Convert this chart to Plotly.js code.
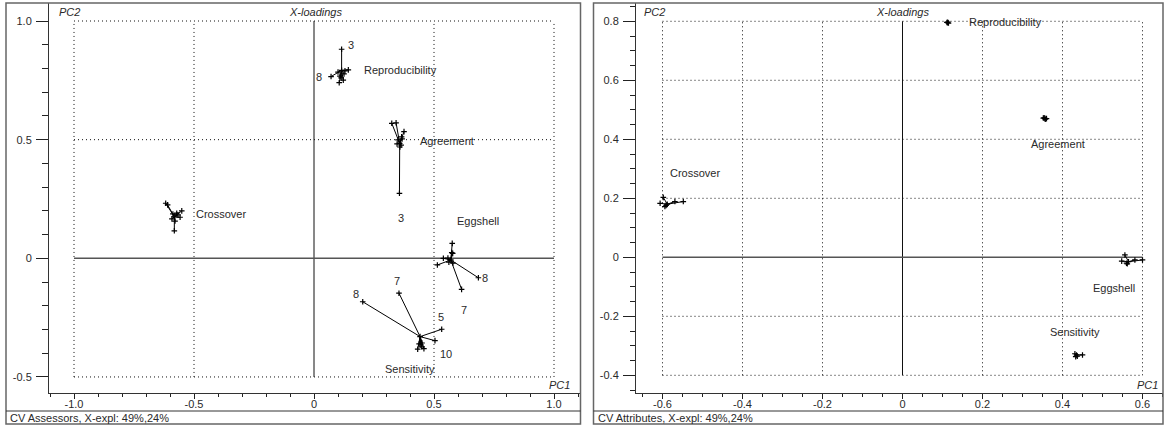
<!DOCTYPE html>
<html>
<head>
<meta charset="utf-8">
<script src="https://cdn.plot.ly/plotly-3.0.1.min.js"></script>
<style>
  html, body { margin: 0; padding: 0; background: #fff; }
  #chart { width: 1165px; height: 425px; }
</style>
</head>
<body>
<div id="chart"></div>
<script>
// Attributes shown in both loading plots
const attributes = ['Reproducibility', 'Agreement', 'Crossover', 'Eggshell', 'Sensitivity'];

// ---- CV Assessors: full-model loading (centre) and one sub-model per left-out assessor ----
const assessorIds = [1, 2, 3, 4, 5, 6, 7, 8, 9, 10];
const assessorCentreX = [0.115, 0.357, -0.582, 0.570, 0.442];
const assessorCentreY = [0.792, 0.484, 0.175, -0.007, -0.330];
const assessorSubX = [
  [0.129, 0.143, 0.115, 0.122, 0.105, 0.108, 0.100, 0.071, 0.125, 0.113],
  [0.350, 0.324, 0.356, 0.375, 0.342, 0.365, 0.367, 0.358, 0.363, 0.346],
  [-0.618, -0.610, -0.582, -0.551, -0.558, -0.572, -0.592, -0.579, -0.567, -0.588],
  [0.576, 0.574, 0.539, 0.514, 0.578, 0.562, 0.615, 0.685, 0.579, 0.558],
  [0.438, 0.450, 0.445, 0.432, 0.532, 0.458, 0.354, 0.203, 0.449, 0.504]
];
const assessorSubY = [
  [0.790, 0.794, 0.881, 0.751, 0.740, 0.768, 0.785, 0.766, 0.777, 0.760],
  [0.499, 0.569, 0.274, 0.534, 0.571, 0.512, 0.503, 0.469, 0.477, 0.482],
  [0.232, 0.225, 0.116, 0.200, 0.173, 0.190, 0.166, 0.157, 0.183, 0.187],
  [0.063, 0.024, 0.000, -0.028, 0.021, -0.016, -0.131, -0.082, -0.020, 0.001],
  [-0.361, -0.357, -0.365, -0.383, -0.299, -0.381, -0.147, -0.183, -0.373, -0.347]
];
// Assessors whose sub-model is labelled, per attribute
const labelledAssessors = [[3, 8], [3], [], [8, 7], [8, 7, 5, 10]];

// ---- CV Attributes: full-model loading (centre) and sub-models ----
const attributeCentreX = [0.113, 0.356, -0.588, 0.565, 0.435];
const attributeCentreY = [0.795, 0.471, 0.180, -0.015, -0.331];
const attributeSubX = [
  [0.111, 0.115, 0.113],
  [0.352, 0.360, 0.357, 0.354],
  [-0.598, -0.606, -0.594, -0.569, -0.548, -0.591],
  [0.556, 0.548, 0.560, 0.581, 0.600, 0.562],
  [0.431, 0.433, 0.450, 0.437]
];
const attributeSubY = [
  [0.796, 0.794, 0.797],
  [0.472, 0.470, 0.468, 0.473],
  [0.203, 0.183, 0.172, 0.189, 0.189, 0.176],
  [0.008, -0.013, -0.020, -0.009, -0.009, -0.022],
  [-0.327, -0.337, -0.331, -0.335]
];

// Axis ticks
const leftXTicks = [-1, -0.5, 0, 0.5, 1];
const leftXTickText = ['-1.0', '-0.5', '0', '0.5', '1.0'];
const leftYTicks = [-0.5, 0, 0.5, 1];
const leftYTickText = ['-0.5', '0', '0.5', '1.0'];
const rightXTicks = [-0.6, -0.4, -0.2, 0, 0.2, 0.4, 0.6];
const rightXTickText = ['-0.6', '-0.4', '-0.2', '0', '0.2', '0.4', '0.6'];
const rightYTicks = [-0.4, -0.2, 0, 0.2, 0.4, 0.6, 0.8];
const rightYTickText = ['-0.4', '-0.2', '0', '0.2', '0.4', '0.6', '0.8'];

const captions = ['CV Assessors, X-expl: 49%,24%', 'CV Attributes, X-expl: 49%,24%'];

// ---------------- drawing ----------------
const W = 1165, H = 425;
const FONT = 'Liberation Sans, Arial, sans-serif';
const TXT = '#2a2a2a';
const px = v => v / W;
const py = v => 1 - v / H;

// Attribute label placement (pixel offsets from the centre, per panel)
const attrLabelShift = {
  x:  { Reproducibility: [20, 0], Agreement: [18, 2], Crossover: [20, 3], Eggshell: [4, 39], Sensitivity: [-37, -32] },
  x2: { Reproducibility: [19, 1], Agreement: [-16, -26], Crossover: [1, 31], Eggshell: [-38, -26], Sensitivity: [-29, 23] }
};
// Assessor-number placement, keyed "attribute:assessor"
const numLabelShift = {
  'Reproducibility:3': [9, 4], 'Reproducibility:8': [-12, 0],
  'Agreement:3': [2, -25],
  'Eggshell:8': [7, 0], 'Eggshell:7': [2, -21],
  'Sensitivity:8': [-7, 8], 'Sensitivity:7': [-2, 12], 'Sensitivity:5': [-1, 12], 'Sensitivity:10': [11, -13]
};

function starTraces(cx, cy, sx, sy, xa, ya) {
  const traces = [];
  cx.forEach((c, i) => {
    const lx = [], ly = [];
    sx[i].forEach((v, j) => {
      lx.push(c, v, null);
      ly.push(cy[i], sy[i][j], null);
    });
    traces.push({
      type: 'scatter', mode: 'lines', x: lx, y: ly, xaxis: xa, yaxis: ya,
      line: { color: '#000', width: 1 }, hoverinfo: 'skip', showlegend: false
    });
    traces.push({
      type: 'scatter', mode: 'markers', x: sx[i].concat([c]), y: sy[i].concat([cy[i]]),
      xaxis: xa, yaxis: ya,
      marker: { symbol: 'cross-thin', size: 4, line: { color: '#000', width: 1.2 } },
      hoverinfo: 'skip', showlegend: false
    });
  });
  return traces;
}

const data = [].concat(
  starTraces(assessorCentreX, assessorCentreY, assessorSubX, assessorSubY, 'x', 'y'),
  starTraces(attributeCentreX, attributeCentreY, attributeSubX, attributeSubY, 'x2', 'y2')
);

const annotations = [];
function addAttrLabels(cx, cy, xr, yr) {
  attributes.forEach((a, i) => {
    const s = attrLabelShift[xr][a];
    annotations.push({
      text: a, x: cx[i], y: cy[i], xref: xr, yref: yr, showarrow: false,
      xanchor: 'left', yanchor: 'middle', xshift: s[0], yshift: s[1],
      font: { family: FONT, size: 11, color: TXT }
    });
  });
}
addAttrLabels(assessorCentreX, assessorCentreY, 'x', 'y');
addAttrLabels(attributeCentreX, attributeCentreY, 'x2', 'y2');

attributes.forEach((a, i) => {
  labelledAssessors[i].forEach(id => {
    const j = assessorIds.indexOf(id);
    const s = numLabelShift[a + ':' + id];
    annotations.push({
      text: String(id), x: assessorSubX[i][j], y: assessorSubY[i][j], xref: 'x', yref: 'y',
      showarrow: false, xanchor: 'center', yanchor: 'middle', xshift: s[0], yshift: s[1],
      font: { family: FONT, size: 11, color: TXT }
    });
  });
});

// Panel titles and captions
function paperText(text, x, y, xanchor, italic) {
  annotations.push({
    text: italic ? '<i>' + text + '</i>' : text, x: px(x), y: py(y), xref: 'paper', yref: 'paper',
    showarrow: false, xanchor: xanchor, yanchor: 'middle',
    font: { family: FONT, size: 11, color: TXT }
  });
}
paperText('PC2', 57, 12, 'left', true);
paperText('X-loadings', 315, 12, 'center', true);
paperText('PC1', 572, 385, 'right', true);
paperText(captions[0], 8, 418, 'left', false);
paperText('PC2', 642, 12, 'left', true);
paperText('X-loadings', 902, 12, 'center', true);
paperText('PC1', 1160, 385, 'right', true);
paperText(captions[1], 596, 418, 'left', false);

// Dotted reference grid and solid zero lines, confined to the outer ticks
const shapes = [];
function grid(xr, yr, xt, yt) {
  const x0 = xt[0], x1 = xt[xt.length - 1], y0 = yt[0], y1 = yt[yt.length - 1];
  xt.forEach(v => {
    shapes.push({ type: 'line', xref: xr, yref: yr, x0: v, x1: v, y0: y0, y1: y1, layer: 'below',
      line: v === 0 ? { color: '#111', width: 1 } : { color: '#111', width: 1, dash: '1px,3px' } });
  });
  yt.forEach(v => {
    shapes.push({ type: 'line', xref: xr, yref: yr, x0: x0, x1: x1, y0: v, y1: v, layer: 'below',
      line: v === 0 ? { color: '#555', width: 1.5 } : { color: '#111', width: 1, dash: '1px,3px' } });
  });
}
grid('x', 'y', leftXTicks, leftYTicks);
grid('x2', 'y2', rightXTicks, rightYTicks);

// Panel frames and caption separators
function frame(l, r) {
  shapes.push({ type: 'rect', xref: 'paper', yref: 'paper', x0: px(l), x1: px(r), y0: py(424), y1: py(3),
    line: { color: '#666', width: 1.5 } });
  shapes.push({ type: 'line', xref: 'paper', yref: 'paper', x0: px(l), x1: px(r), y0: py(411), y1: py(411),
    line: { color: '#333', width: 1 } });
}
frame(6, 580.5);
frame(593.5, 1163);

function axis(domain, range, ticks, text, minorStep, majorLen, minorLen, standoff) {
  return {
    domain: domain, range: range, tickmode: 'array', tickvals: ticks, ticktext: text,
    ticks: 'outside', ticklen: majorLen, tickwidth: 1, tickcolor: '#222',
    ticklabelstandoff: standoff,
    minor: { tickmode: 'linear', tick0: 0, dtick: minorStep, ticks: 'outside', ticklen: minorLen,
             tickcolor: '#222', tickwidth: 1, showgrid: false },
    showline: true, linecolor: '#333', linewidth: 1, mirror: false,
    showgrid: false, zeroline: false, fixedrange: true,
    tickfont: { family: FONT, size: 11, color: TXT }
  };
}

const yDom = [1 - 393 / H, 1 - 3 / H];
const layout = {
  width: W, height: H,
  margin: { l: 0, r: 0, t: 0, b: 0 },
  paper_bgcolor: '#fff', plot_bgcolor: '#fff',
  showlegend: false,
  xaxis: axis([px(49), px(580.5)], [-1.1042, 1.1104], leftXTicks, leftXTickText, 0.1, 5, 3, -4),
  yaxis: axis(yDom, [-0.5676, 1.0759], leftYTicks, leftYTickText, 0.1, 12, 6, 2),
  xaxis2: axis([px(636), px(1163)], [-0.66625, 0.65125], rightXTicks, rightXTickText, 0.05, 5, 3, -4),
  yaxis2: axis(yDom, [-0.46, 0.862], rightYTicks, rightYTickText, 0.05, 12, 5, 2),
  shapes: shapes,
  annotations: annotations
};
layout.xaxis.anchor = 'y';
layout.yaxis.anchor = 'x';
layout.xaxis2.anchor = 'y2';
layout.yaxis2.anchor = 'x2';

Plotly.newPlot('chart', data, layout, { staticPlot: true, displayModeBar: false });
</script>
</body>
</html>
